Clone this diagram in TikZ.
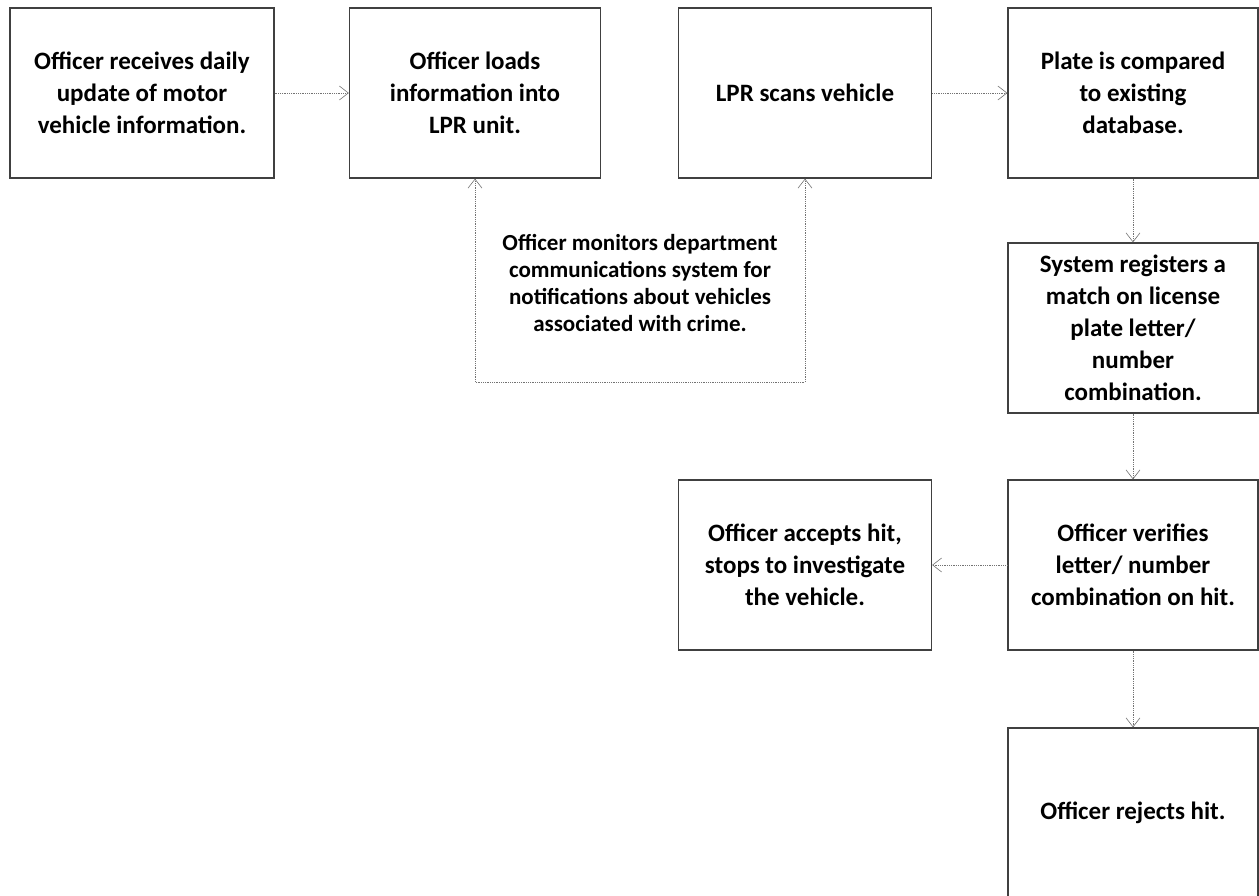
\documentclass[tikz,border=0pt]{standalone}
\usepackage{fontspec}
\setmainfont{Carlito}
\usetikzlibrary{arrows.meta}
\tikzset{
  actbox/.style={draw=black!75, line width=1.3pt, minimum width=251pt, minimum height=170pt,
    inner sep=0pt, align=center, font=\bfseries\fontsize{25}{32}\selectfont},
  barb/.tip={Straight Barb[length=9pt,width=14pt,line width=0.6pt]},
  flow/.style={draw=black!55, densely dotted, line width=0.8pt, -barb}
}
\begin{document}
\begin{tikzpicture}[x=1pt,y=-1pt]
\useasboundingbox (0,0) rectangle (1259,896);
\node[actbox, minimum width=264pt] (daily) at (142,93) {Officer receives daily\\update of motor\\vehicle information.};
\node[actbox] (load) at (475,93) {Officer loads\\information into\\LPR unit.};
\node[actbox, minimum width=253pt] (scan) at (805,93) {LPR scans vehicle};
\node[actbox, minimum width=250pt] (compare) at (1133,93) {Plate is compared\\to existing\\database.};
\node[actbox, minimum width=250pt] (match) at (1133,328) {System registers a\\match on license\\plate letter/\\number\\combination.};
\node[actbox, minimum width=250pt] (verify) at (1133,565) {Officer verifies\\letter/ number\\combination on hit.};
\node[actbox, minimum width=253pt] (accept) at (805,565) {Officer accepts hit,\\stops to investigate\\the vehicle.};
\node[actbox, minimum width=250pt] (reject) at (1133,813) {Officer rejects hit.};
\node[align=center, font=\bfseries\fontsize{23}{27}\selectfont] (monitor) at (640,283)
  {Officer monitors department\\communications system for\\notifications about vehicles\\associated with crime.};
\coordinate (bl) at (475,382);
\coordinate (br) at (805,382);
\draw[flow] (daily) -- (load);
\draw[flow] (scan) -- (compare);
\draw[flow] (compare) -- (match);
\draw[flow] (match) -- (verify);
\draw[flow] (verify) -- (accept);
\draw[flow] (verify) -- (reject);
\draw[flow, barb-barb] (load) -- (bl) -- (br) -- (scan);
\end{tikzpicture}
\end{document}
